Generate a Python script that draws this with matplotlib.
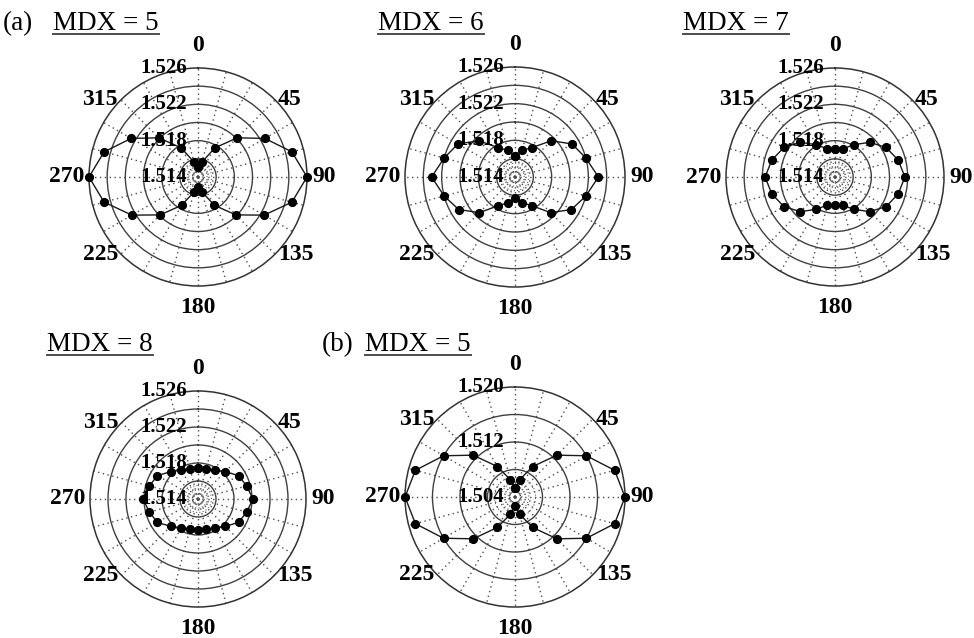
import numpy as np
import matplotlib
matplotlib.use("Agg")
import matplotlib.pyplot as plt
from matplotlib.transforms import offset_copy
from matplotlib.lines import Line2D

# angle of each measurement (degrees, clockwise from top)
angles_deg = [0, 15, 30, 45, 60, 75, 90, 105, 120, 135, 150, 165,
              180, 195, 210, 225, 240, 255, 270, 285, 300, 315, 330, 345]

# refractive index
n_a_mdx5 = [1.5151, 1.5157, 1.5177, 1.5201, 1.5225, 1.5247, 1.5260, 1.5247,
            1.5224, 1.5199, 1.5176, 1.5157, 1.5151, 1.5157, 1.5176, 1.5199,
            1.5224, 1.5247, 1.5260, 1.5247, 1.5225, 1.5201, 1.5177, 1.5157]
n_a_mdx6 = [1.5163, 1.5170, 1.5177, 1.5196, 1.5212, 1.5220, 1.5231, 1.5220,
            1.5211, 1.5195, 1.5176, 1.5169, 1.5163, 1.5169, 1.5176, 1.5195,
            1.5211, 1.5220, 1.5231, 1.5220, 1.5212, 1.5196, 1.5177, 1.5170]
n_a_mdx7 = [1.5171, 1.5172, 1.5181, 1.5194, 1.5205, 1.5212, 1.5217, 1.5212,
            1.5205, 1.5194, 1.5181, 1.5172, 1.5171, 1.5172, 1.5181, 1.5194,
            1.5205, 1.5212, 1.5217, 1.5212, 1.5205, 1.5194, 1.5181, 1.5172]
n_a_mdx8 = [1.5174, 1.5175, 1.5177, 1.5183, 1.5192, 1.5196, 1.5201, 1.5196,
            1.5192, 1.5183, 1.5177, 1.5175, 1.5174, 1.5175, 1.5177, 1.5183,
            1.5192, 1.5196, 1.5201, 1.5196, 1.5192, 1.5183, 1.5177, 1.5175]
n_b_mdx5 = [1.5053, 1.5066, 1.5091, 1.5126, 1.5160, 1.5190, 1.5200, 1.5190,
            1.5160, 1.5126, 1.5091, 1.5066, 1.5053, 1.5066, 1.5091, 1.5126,
            1.5160, 1.5190, 1.5200, 1.5190, 1.5160, 1.5126, 1.5091, 1.5066]

angle_labels = ['0', '45', '90', '135', '180', '225', '270', '315']

# radial scales
r_a = (1.514, 1.526)
rings_a = [1.516, 1.518, 1.520, 1.522, 1.524]
minor_a = [1.5145, 1.515, 1.5155]
rlabels_a = [1.526, 1.522, 1.518, 1.514]

r_b = (1.504, 1.520)
rings_b = [1.508, 1.512, 1.516]
minor_b = [1.505, 1.506, 1.507]
rlabels_b = [1.520, 1.512, 1.504]

W, H = 974, 638
fig = plt.figure(figsize=(W / 100, H / 100), dpi=100)
fig.patch.set_facecolor('white')

serif = 'Liberation Serif'

# (values, radial scale, rings, minor rings, radial labels, centre px, radius px)
panels = [
    (n_a_mdx5, r_a, rings_a, minor_a, rlabels_a, (198, 177), 109),
    (n_a_mdx6, r_a, rings_a, minor_a, rlabels_a, (515, 177), 110),
    (n_a_mdx7, r_a, rings_a, minor_a, rlabels_a, (835, 177), 109),
    (n_a_mdx8, r_a, rings_a, minor_a, rlabels_a, (198, 499), 108),
    (n_b_mdx5, r_b, rings_b, minor_b, rlabels_b, (515, 497), 110),
]

label_pos = {0: (0, 12, 'center', 'bottom'), 45: (3, 0, 'left', 'center'),
             90: (5, 0, 'left', 'center'), 135: (3, 0, 'left', 'center'),
             180: (0, -11, 'center', 'top'), 225: (-3, 0, 'right', 'center'),
             270: (-5, 0, 'right', 'center'), 315: (-3, 0, 'right', 'center')}

for vals, rlim, rings, minor, rlabs, (cx, cy), R in panels:
    ax = fig.add_axes([(cx - R) / W, 1 - (cy + R) / H, 2 * R / W, 2 * R / H],
                      projection='polar')
    ax.set_theta_zero_location('N')
    ax.set_theta_direction(-1)
    ax.set_ylim(*rlim)

    ax.set_xticks(np.deg2rad(np.arange(0, 360, 15)))
    ax.set_xticklabels([])
    ax.set_yticks(rings)
    ax.set_yticks(minor, minor=True)
    ax.set_yticklabels([])
    ax.tick_params(axis='y', which='both', length=0)
    ax.xaxis.grid(True, linestyle=(0, (1, 2.5)), color='0.3', linewidth=1.0)
    ax.yaxis.grid(True, which='major', linestyle='-', color='0.25', linewidth=1.0)
    ax.yaxis.grid(True, which='minor', linestyle=(0, (1, 2)), color='0.4',
                  linewidth=0.8)
    ax.spines['polar'].set_color('0.2')
    ax.spines['polar'].set_linewidth(1.1)

    th = np.deg2rad(angles_deg + [angles_deg[0]])
    rr = vals + [vals[0]]
    ax.plot(th, rr, '-', color='0.1', linewidth=1.0, marker='o',
            markersize=5.6, markerfacecolor='black', markeredgecolor='black',
            clip_on=False, zorder=5)

    # angle labels
    for lab in angle_labels:
        a = int(lab)
        dx, dy, ha, va = label_pos[a]
        tr = offset_copy(ax.transData, fig=fig, x=dx, y=dy, units='dots')
        ax.text(np.deg2rad(a), rlim[1], lab, transform=tr, ha=ha, va=va,
                fontsize=17, fontweight='bold', family=serif)

    # radial labels along the 0 line
    tr = offset_copy(ax.transData, fig=fig, x=-11, y=0, units='dots')
    for v in rlabs:
        ax.text(0, v, f'{v:.3f}', transform=tr, ha='right', va='center',
                fontsize=15, fontweight='bold', family=serif, zorder=6)

# panel titles: (prefix, prefix x, title x, baseline y) in pixels
titles = [
    ('(a)', 3, 'MDX = 5', 53, 30),
    ('', 0, 'MDX = 6', 378, 30),
    ('', 0, 'MDX = 7', 683, 30),
    ('', 0, 'MDX = 8', 47, 351),
    ('(b)', 322, 'MDX = 5', 365, 351),
]

texts = []
for pre, px, t, tx, by in titles:
    if pre:
        fig.text(px / W, 1 - by / H, pre, fontsize=19.5, family=serif,
                 va='baseline', ha='left')
    txt = fig.text(tx / W, 1 - by / H, t, fontsize=19.5, family=serif,
                   va='baseline', ha='left')
    texts.append((txt, by))

fig.canvas.draw()
renderer = fig.canvas.get_renderer()
for txt, by in texts:
    bb = txt.get_window_extent(renderer)
    y = 1 - (by + 4) / H
    fig.add_artist(Line2D([bb.x0 / W, bb.x1 / W], [y, y], color='0.3',
                          linewidth=1.4, transform=fig.transFigure))

fig.savefig('out.png', dpi=100, facecolor='white')
